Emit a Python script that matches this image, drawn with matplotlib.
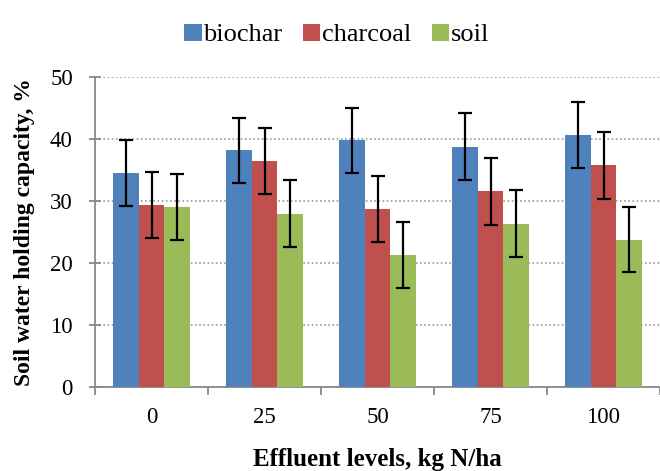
import numpy as np
import matplotlib
matplotlib.use('Agg')
import matplotlib.pyplot as plt

# Data
Levels = ['0', '25', '50', '75', '100']
Biochar = [34.5, 38.2, 39.8, 38.8, 40.7]
Charcoal = [29.4, 36.5, 28.7, 31.6, 35.8]
Soil = [29.1, 28.0, 21.3, 26.4, 23.8]
Biochar_err = [5.3, 5.3, 5.3, 5.4, 5.3]
Charcoal_err = [5.3, 5.3, 5.3, 5.4, 5.4]
Soil_err = [5.3, 5.4, 5.3, 5.4, 5.3]

plt.rcParams['font.family'] = ['Liberation Serif', 'DejaVu Serif']

fig = plt.figure(figsize=(6.6, 4.71), dpi=100)
ax = fig.add_axes([0.144, 0.178, 0.856, 0.658])

x = np.arange(len(Levels))
w = 0.225
err_kw = dict(ecolor='black', elinewidth=1.6, capsize=5, capthick=1.6)
ax.bar(x - w, Biochar, w, yerr=Biochar_err, color='#4F81BD', label='biochar', error_kw=err_kw, zorder=3)
ax.bar(x, Charcoal, w, yerr=Charcoal_err, color='#C0504D', label='charcoal', error_kw=err_kw, zorder=3)
ax.bar(x + w, Soil, w, yerr=Soil_err, color='#9BBB59', label='soil', error_kw=err_kw, zorder=3)

ax.set_xlim(-0.5, len(Levels) - 0.5)
ax.set_ylim(0, 50)
ax.set_yticks(range(0, 51, 10))
ax.set_xticks(x)
ax.set_xticklabels(Levels)
ax.set_xticks(np.arange(-0.5, len(Levels), 1.0), minor=True)
ax.tick_params(axis='x', which='major', length=0, pad=14, labelsize=16.5)
ax.tick_params(axis='x', which='minor', length=6, width=1.3, color='#888888', direction='out')
ax.tick_params(axis='y', length=8, width=1.3, color='#888888', direction='inout', labelsize=16.5, pad=12)

for s in ['top', 'right']:
    ax.spines[s].set_visible(False)
for s in ['left', 'bottom']:
    ax.spines[s].set_color('#888888')
    ax.spines[s].set_linewidth(1.3)

ax.yaxis.grid(True, linestyle=(0, (1, 1.5)), color='#999999', linewidth=1.2, zorder=0)
ax.set_axisbelow(True)

ax.set_xlabel('Effluent levels, kg N/ha', fontsize=18, fontweight='bold', labelpad=15)
ax.set_ylabel('Soil water holding capacity, %', fontsize=17, fontweight='bold', labelpad=11)

fig.legend(loc='upper center', bbox_to_anchor=(0.51, 1.0), ncol=3, frameon=False,
           fontsize=19, handlelength=0.65, handleheight=0.6, handletextpad=0.05,
           columnspacing=0.8)

fig.savefig('out.png', dpi=100)
